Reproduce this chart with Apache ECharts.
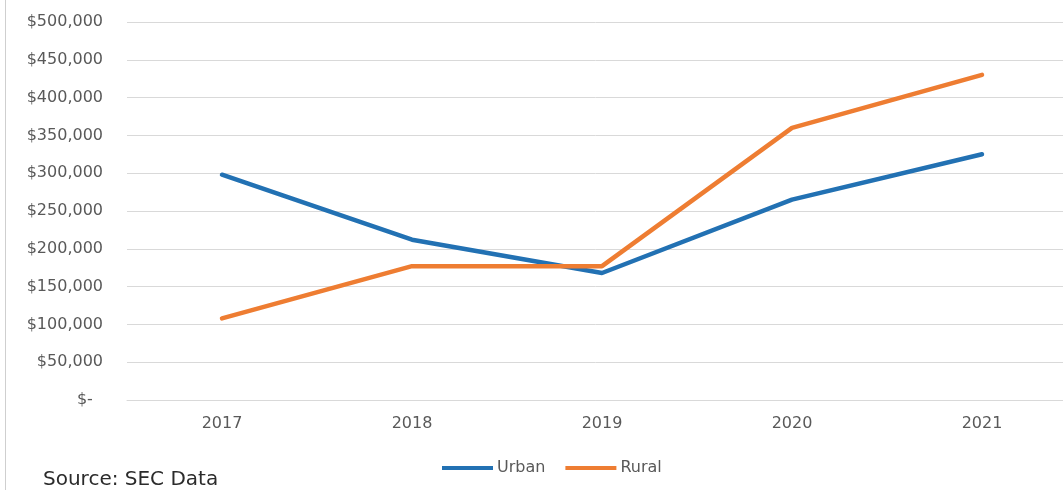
<!DOCTYPE html>
<html>
<head>
<meta charset="utf-8">
<style>
  html, body { margin: 0; padding: 0; background: #ffffff; }
  #chart { width: 1063px; height: 490px; }
</style>
<script src="https://cdn.jsdelivr.net/npm/echarts@6/dist/echarts.min.js"></script>
</head>
<body>
<div id="chart"></div>
<script>
// Yearly values, urban vs rural
const years = ['2017', '2018', '2019', '2020', '2021'];
const urban = [298000, 212000, 168000, 265000, 325000];
const rural = [108000, 177000, 177000, 360000, 430000];
const yMin = 0;
const yMax = 500000;
const yStep = 50000;

const labelColor = '#595959';
const gridColor = '#d9d9d9';
const font = 'DejaVu Sans, Liberation Sans, sans-serif';

function money(v) {
  if (v === 0) return '$-  ';
  return '$' + v.toLocaleString('en-US');
}

const chart = echarts.init(document.getElementById('chart'), null, { renderer: 'canvas' });

chart.setOption({
  backgroundColor: '#ffffff',
  animation: false,
  textStyle: { fontFamily: font },
  grid: { left: 127, top: 22, width: 950, height: 378, containLabel: false, outerBoundsMode: 'none' },
  xAxis: {
    type: 'category',
    data: years,
    boundaryGap: true,
    axisLine: { show: true, lineStyle: { color: gridColor, width: 1 } },
    axisTick: { show: false },
    axisLabel: { color: labelColor, fontSize: 16, margin: 16, fontFamily: font }
  },
  yAxis: {
    type: 'value',
    min: yMin,
    max: yMax,
    interval: yStep,
    axisLine: { show: false },
    axisTick: { show: false },
    splitLine: { lineStyle: { color: gridColor, width: 1 } },
    axisLabel: { color: labelColor, fontSize: 16, margin: 24, fontFamily: font, formatter: money }
  },
  legend: {
    top: 460,
    left: 442,
    icon: 'rect',
    itemWidth: 51,
    itemHeight: 4,
    itemGap: 20,
    padding: 0,
    textStyle: { color: labelColor, fontSize: 16, fontFamily: font, padding: [0, 0, 0, -1] },
    data: ['Urban', 'Rural']
  },
  graphic: [
    {
      type: 'line',
      shape: { x1: 5.5, y1: 0, x2: 5.5, y2: 490 },
      style: { stroke: '#cfcfcf', lineWidth: 1 }
    },
    {
      type: 'text',
      left: 43,
      top: 470,
      style: {
        text: 'Source: SEC Data',
        fill: '#2b2b2b',
        font: '20px "DejaVu Sans", "Liberation Sans", sans-serif'
      }
    }
  ],
  series: [
    {
      name: 'Urban',
      type: 'line',
      data: urban,
      showSymbol: false,
      symbol: 'none',
      lineStyle: { color: '#2271b3', width: 4.5, cap: 'round', join: 'round' },
      itemStyle: { color: '#2271b3' }
    },
    {
      name: 'Rural',
      type: 'line',
      data: rural,
      showSymbol: false,
      symbol: 'none',
      lineStyle: { color: '#ee7d32', width: 4.5, cap: 'round', join: 'round' },
      itemStyle: { color: '#ee7d32' }
    }
  ]
});
</script>
</body>
</html>
